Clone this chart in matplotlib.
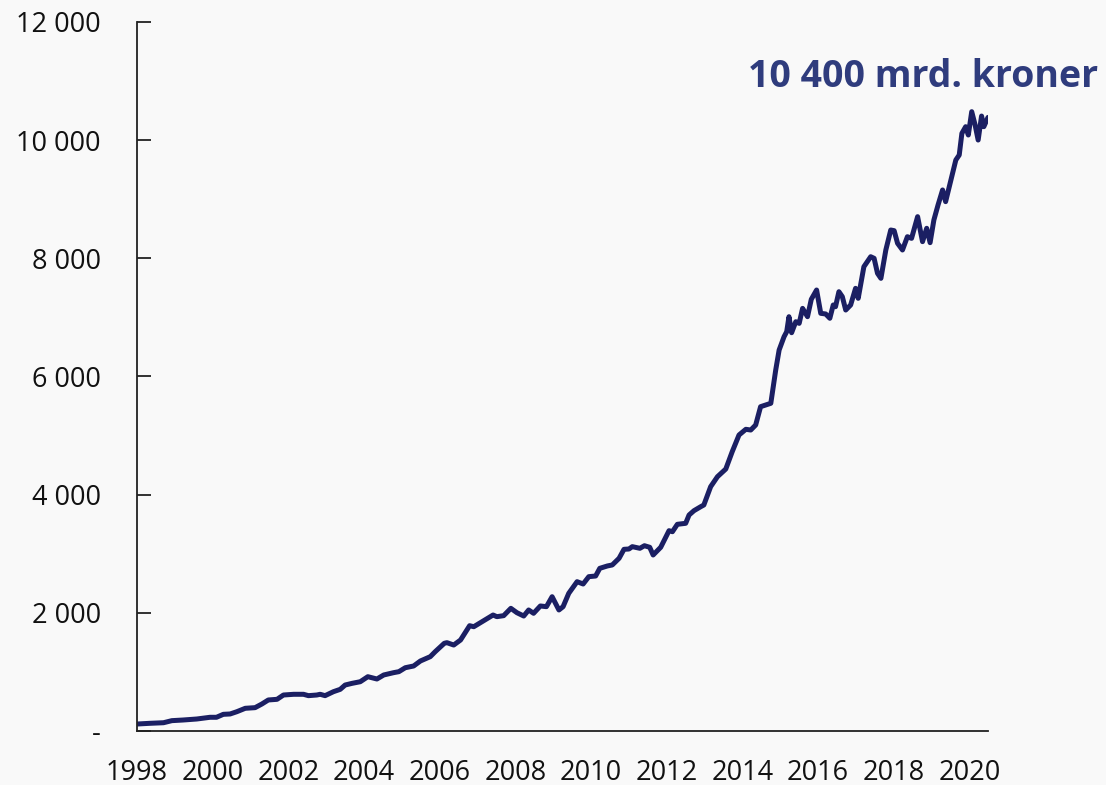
import matplotlib
matplotlib.use("Agg")
import matplotlib.pyplot as plt

# Decimal year and value (mrd. kroner)
years = [1998.0, 1998.34, 1998.7, 1998.92, 1999.22, 1999.58, 1999.93, 2000.1, 2000.28, 2000.46,
         2000.64, 2000.86, 2001.12, 2001.3, 2001.47, 2001.7, 2001.87, 2002.14, 2002.4, 2002.53,
         2002.75, 2002.84, 2002.97, 2003.19, 2003.37, 2003.5, 2003.68, 2003.9, 2004.1, 2004.34,
         2004.52, 2004.78, 2004.92, 2005.09, 2005.31, 2005.49, 2005.75, 2005.88, 2006.12, 2006.19,
         2006.37, 2006.55, 2006.79, 2006.9, 2007.16, 2007.41, 2007.51, 2007.69, 2007.88, 2008.04,
         2008.22, 2008.35, 2008.48, 2008.66, 2008.82, 2008.97, 2009.15, 2009.26, 2009.41, 2009.63,
         2009.79, 2009.94, 2010.12, 2010.23, 2010.43, 2010.56, 2010.74, 2010.87, 2011.0, 2011.09,
         2011.29, 2011.41, 2011.55, 2011.64, 2011.84, 2012.06, 2012.15, 2012.28, 2012.5, 2012.59,
         2012.72, 2012.9, 2012.98, 2013.16, 2013.34, 2013.56, 2013.73, 2013.91, 2014.09, 2014.22,
         2014.35, 2014.48, 2014.61, 2014.75, 2014.88, 2014.97, 2015.1, 2015.17, 2015.23, 2015.3,
         2015.41, 2015.5, 2015.59, 2015.72, 2015.82, 2015.96, 2016.07, 2016.2, 2016.31, 2016.4,
         2016.46, 2016.55, 2016.64, 2016.73, 2016.86, 2016.99, 2017.06, 2017.21, 2017.39, 2017.48,
         2017.57, 2017.66, 2017.79, 2017.92, 2018.01, 2018.1, 2018.23, 2018.36, 2018.47, 2018.63,
         2018.76, 2018.87, 2018.96, 2019.06, 2019.17, 2019.29, 2019.37, 2019.51, 2019.64, 2019.73,
         2019.8, 2019.9, 2019.97, 2020.06, 2020.15, 2020.23, 2020.32, 2020.38, 2020.49]
values = [118, 130, 140, 175, 186, 203, 232, 232, 282, 288,
          327, 384, 395, 457, 525, 536, 609, 621, 621, 598,
          609, 621, 598, 665, 705, 778, 806, 834, 919, 880,
          948, 987, 1004, 1071, 1100, 1185, 1258, 1342, 1484, 1495,
          1455, 1540, 1782, 1765, 1867, 1963, 1935, 1952, 2076, 2002,
          1946, 2048, 1992, 2116, 2104, 2273, 2048, 2104, 2330, 2527,
          2488, 2612, 2623, 2753, 2793, 2810, 2923, 3075, 3080, 3120,
          3092, 3136, 3109, 2979, 3109, 3390, 3373, 3498, 3515, 3656,
          3729, 3797, 3825, 4135, 4304, 4434, 4727, 5010, 5106, 5094,
          5179, 5489, 5517, 5546, 6110, 6448, 6673, 6758, 7012, 6741,
          6927, 6899, 7153, 7012, 7306, 7464, 7069, 7058, 6985, 7210,
          7181, 7435, 7351, 7125, 7210, 7492, 7323, 7858, 8027, 8000,
          7746, 7661, 8141, 8479, 8468, 8254, 8141, 8366, 8338, 8705,
          8282, 8508, 8265, 8649, 8903, 9157, 8959, 9326, 9664, 9749,
          10115, 10228, 10087, 10482, 10256, 10002, 10408, 10228, 10385]

x_ticks = [1998, 2000, 2002, 2004, 2006, 2008, 2010, 2012, 2014, 2016, 2018, 2020]
y_ticks = [0, 2000, 4000, 6000, 8000, 10000, 12000]
y_labels = ["-", "2 000", "4 000", "6 000", "8 000", "10 000", "12 000"]
annotation = "10 400 mrd. kroner"

BG = "#f9f9f9"
LINE = "#1b1f63"
TXT = "#2f3c7d"

plt.rcParams["font.family"] = ["Open Sans", "DejaVu Sans"]

fig = plt.figure(figsize=(11.06, 7.85), dpi=100, facecolor=BG)
ax = fig.add_axes([0.1239, 0.0688, 0.7694, 0.9032], facecolor=BG)

ax.plot(years, values, color=LINE, linewidth=3.6, solid_joinstyle="round", solid_capstyle="round")

ax.set_xlim(1998, years[-1])
ax.set_ylim(0, 12000)
ax.set_xticks(x_ticks)
ax.set_xticklabels([str(t) for t in x_ticks])
ax.set_yticks(y_ticks)
ax.set_yticklabels(y_labels)

for s in ["top", "right"]:
    ax.spines[s].set_visible(False)
for s in ["left", "bottom"]:
    ax.spines[s].set_linewidth(1.3)
    ax.spines[s].set_color("#222222")

ax.tick_params(axis="y", direction="in", length=10, width=1.3, color="#222222",
               labelsize=19.5, pad=26, labelcolor="#111111")
ax.tick_params(axis="x", length=0, labelsize=19.5, pad=20, labelcolor="#111111")

fig.text(1098 / 1106, 1 - 77 / 785, annotation, ha="right", va="center",
         fontsize=27, fontweight="bold", color=TXT)

fig.savefig("out.png", dpi=100, facecolor=BG)
